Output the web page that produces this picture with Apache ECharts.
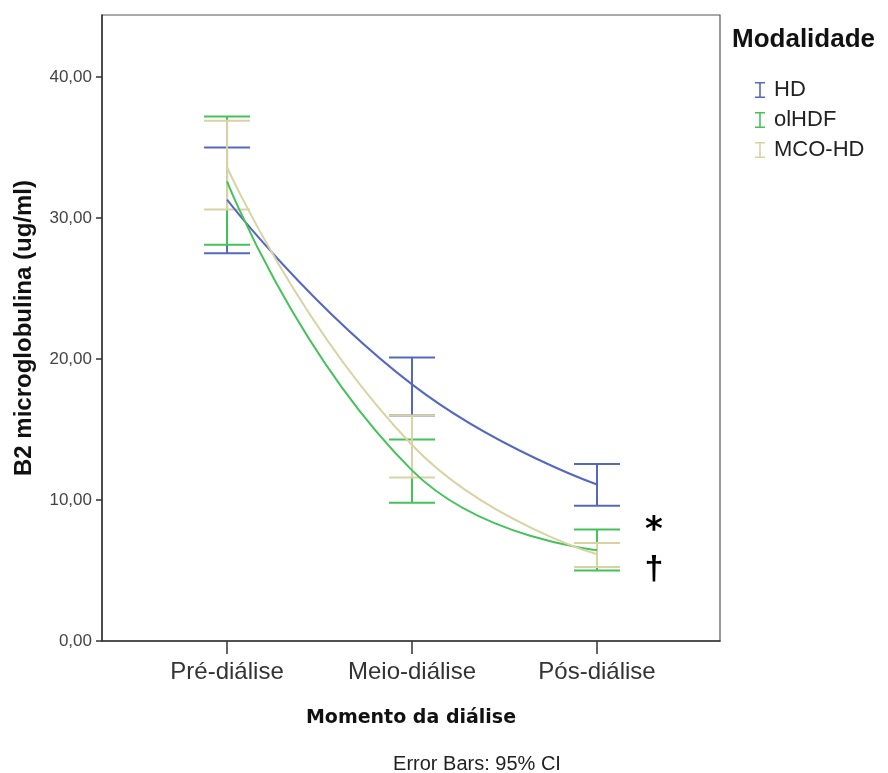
<!DOCTYPE html>
<html>
<head>
<meta charset="utf-8">
<script src="https://cdn.jsdelivr.net/npm/echarts@6/dist/echarts.min.js"></script>
<style>
html,body{margin:0;padding:0;background:#fff;}
#chart{width:888px;height:773px;}
</style>
</head>
<body>
<div id="chart"></div>
<script>
// ---- data ----
const categories = ['Pré-diálise', 'Meio-diálise', 'Pós-diálise'];
const seriesNames = ['HD', 'olHDF', 'MCO-HD'];
const hdMean = [31.3, 18.2, 11.1];
const hdLow = [27.5, 16.0, 9.6];
const hdHigh = [35.0, 20.1, 12.55];
const olhdfMean = [32.6, 12.1, 6.45];
const olhdfLow = [28.1, 9.8, 5.0];
const olhdfHigh = [37.2, 14.3, 7.9];
const mcoMean = [33.6, 13.9, 6.15];
const mcoLow = [30.6, 11.6, 5.25];
const mcoHigh = [36.9, 16.0, 6.95];
const yTicks = [0, 10, 20, 30, 40];
const xTicks = [0, 1, 2];

const colors = ['#5468C0', '#45C25A', '#D9D3A4'];
const means = [hdMean, olhdfMean, mcoMean];
const lows = [hdLow, olhdfLow, mcoLow];
const highs = [hdHigh, olhdfHigh, mcoHigh];

const chart = echarts.init(document.getElementById('chart'));
const series = [];
seriesNames.forEach((name, i) => {
  series.push({
    name: name,
    type: 'custom',
    z: 3,
    data: categories.map((c, k) => [k, lows[i][k], highs[i][k]]),
    renderItem: function (params, api) {
      const x = api.value(0);
      const pLo = api.coord([x, api.value(1)]);
      const pHi = api.coord([x, api.value(2)]);
      const w = 23;
      const st = { stroke: colors[i], lineWidth: 2 };
      return {
        type: 'group',
        children: [
          { type: 'line', shape: { x1: pLo[0], y1: pLo[1], x2: pHi[0], y2: pHi[1] }, style: st },
          { type: 'line', shape: { x1: pLo[0] - w, y1: pLo[1], x2: pLo[0] + w, y2: pLo[1] }, style: st },
          { type: 'line', shape: { x1: pHi[0] - w, y1: pHi[1], x2: pHi[0] + w, y2: pHi[1] }, style: st }
        ]
      };
    },
    itemStyle: { color: colors[i] }
  });
  series.push({
    name: name,
    type: 'line',
    smooth: true,
    symbol: 'none',
    z: 4,
    lineStyle: { color: colors[i], width: 2 },
    itemStyle: { color: colors[i] },
    data: categories.map((c, k) => [k, means[i][k]])
  });
});

const iconPath = 'path://M0,0H10V1.6H0Z M4.2,0H5.8V16H4.2Z M0,14.4H10V16H0Z';

chart.setOption({
  animation: false,
  backgroundColor: '#fff',
  grid: {
    left: 102, right: 168, top: 15, bottom: 132,
    show: true, borderColor: '#555', borderWidth: 1.2
  },
  xAxis: {
    type: 'value',
    min: -0.676, max: 2.665,
    splitLine: { show: false },
    axisLine: { show: true, onZero: false, lineStyle: { color: '#333', width: 1.5 } },
    axisTick: { show: true, length: 13, customValues: xTicks, lineStyle: { color: '#333', width: 1.5 } },
    axisLabel: {
      customValues: xTicks,
      formatter: v => categories[Math.round(v)] || '',
      fontFamily: 'Liberation Sans', fontSize: 24, color: '#333', margin: 19
    },
    name: 'Momento da diálise',
    nameLocation: 'middle',
    nameGap: 68,
    nameTextStyle: { fontFamily: 'DejaVu Sans', fontWeight: 'bold', fontSize: 19, color: '#111' }
  },
  yAxis: {
    type: 'value',
    min: 0, max: 44.4,
    splitLine: { show: false },
    axisLine: { show: true, onZero: false, lineStyle: { color: '#333', width: 1.5 } },
    axisTick: { show: true, length: 6, customValues: yTicks, lineStyle: { color: '#333', width: 1.5 } },
    axisLabel: {
      customValues: yTicks,
      formatter: v => v.toFixed(2).replace('.', ','),
      fontFamily: 'Liberation Sans', fontSize: 17, color: '#444', margin: 10
    },
    name: 'B2 microglobulina (ug/ml)',
    nameLocation: 'middle',
    nameGap: 66,
    nameTextStyle: { fontFamily: 'Liberation Sans', fontWeight: 'bold', fontSize: 24, color: '#111' }
  },
  legend: {
    orient: 'vertical',
    left: 750, top: 74,
    itemWidth: 10, itemHeight: 16, itemGap: 8,
    textStyle: { fontFamily: 'Liberation Sans', fontSize: 22, lineHeight: 22, color: '#222', padding: [0, 0, 0, 4] },
    data: seriesNames.map((n, i) => ({ name: n, icon: iconPath, itemStyle: { color: colors[i] } }))
  },
  graphic: [
    { type: 'text', x: 732, y: 40, style: { text: 'Modalidade', font: 'bold 26px "Liberation Sans"', fill: '#111', textVerticalAlign: 'middle' } },
    { type: 'text', x: 654, y: 531, style: { text: '*', font: 'bold 34px "DejaVu Sans"', fill: '#000', textAlign: 'center', textVerticalAlign: 'middle' } },
    { type: 'text', x: 654, y: 570, style: { text: '†', font: 'bold 34px "Liberation Sans"', fill: '#000', textAlign: 'center', textVerticalAlign: 'middle' } },
    { type: 'text', x: 477, y: 764, style: { text: 'Error Bars: 95% CI', font: '20px "Liberation Sans"', fill: '#222', textAlign: 'center', textVerticalAlign: 'middle' } }
  ],
  series: series
});
</script>
</body>
</html>
